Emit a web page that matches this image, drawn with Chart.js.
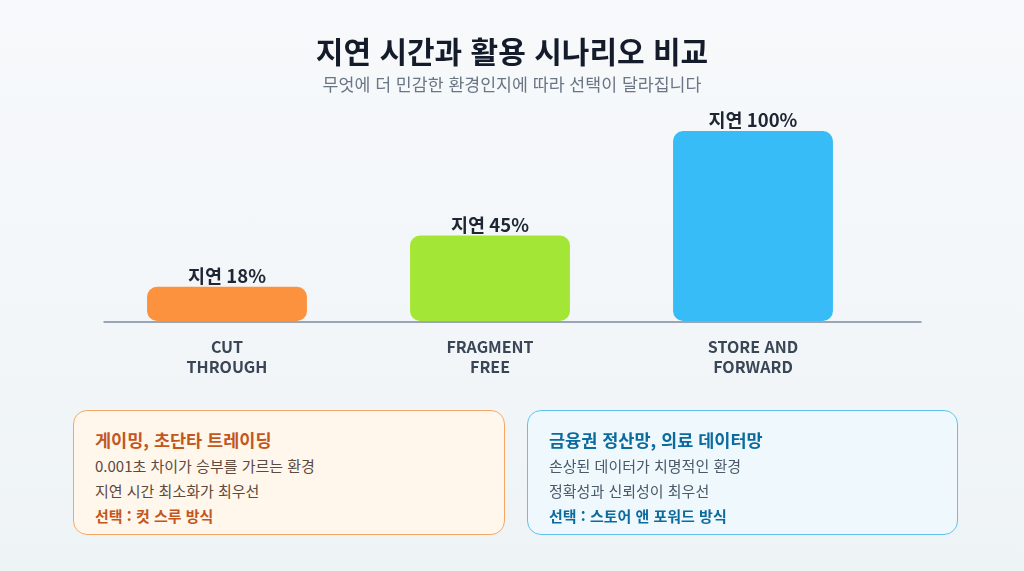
<!DOCTYPE html>
<html lang="ko">
<head>
<meta charset="utf-8">
<script src="https://cdn.jsdelivr.net/npm/chart.js@4.4.1/dist/chart.umd.min.js"></script>
<style>
  html, body { margin: 0; padding: 0; }
  body { width: 1024px; height: 571px; overflow: hidden;
    background: linear-gradient(180deg, #f7f9fb 0%, #f2f6f8 60%, #eef3f5 100%);
    font-family: "Noto Sans CJK KR", "Noto Sans", sans-serif; position: relative; }
  #wrap { position: absolute; left: 0; top: 0; width: 1024px; height: 571px; }
  .title { position: absolute; left: 0; width: 1024px; top: 30px; text-align: center;
    font-size: 30px; font-weight: 700; color: #141b2b; line-height: 40px; }
  .subtitle { position: absolute; left: 0; width: 1024px; top: 72px; text-align: center;
    font-size: 17.3px; color: #6b7685; line-height: 24px; }
  .box { position: absolute; top: 410px; height: 125px; border-radius: 14px; box-sizing: border-box; }
  .box.left { left: 73px; width: 432px; background: #fff6ec; border: 1.5px solid #f5a866; }
  .box.right { left: 527px; width: 431px; background: #eef8fd; border: 1.5px solid #5fc2ee; }
  .box div { position: absolute; left: 21px; white-space: nowrap; }
  .bt { top: 16px; font-size: 17.5px; font-weight: 700; line-height: 26px; }
  .b1 { top: 43px; font-size: 15px; line-height: 24px; }
  .b2 { top: 68px; font-size: 15px; line-height: 24px; }
  .b3 { top: 93px; font-size: 15px; font-weight: 700; line-height: 24px; }
  .left .bt, .left .b3 { color: #c4561d; }
  .left .b1, .left .b2 { color: #5c4a3e; }
  .right .bt, .right .b3 { color: #0c6b9e; }
  .right .b1, .right .b2 { color: #4a5a68; }
</style>
</head>
<body>
<div id="wrap"><canvas id="c"></canvas></div>
<div class="title">지연 시간과 활용 시나리오 비교</div>
<div class="subtitle">무엇에 더 민감한 환경인지에 따라 선택이 달라집니다</div>
<div class="box left">
  <div class="bt">게이밍, 초단타 트레이딩</div>
  <div class="b1">0.001초 차이가 승부를 가르는 환경</div>
  <div class="b2">지연 시간 최소화가 최우선</div>
  <div class="b3">선택 : 컷 스루 방식</div>
</div>
<div class="box right">
  <div class="bt">금융권 정산망, 의료 데이터망</div>
  <div class="b1">손상된 데이터가 치명적인 환경</div>
  <div class="b2">정확성과 신뢰성이 최우선</div>
  <div class="b3">선택 : 스토어 앤 포워드 방식</div>
</div>
<script>
const categories = [["CUT", "THROUGH"], ["FRAGMENT", "FREE"], ["STORE AND", "FORWARD"]];
const latency = [18, 45, 100];
const barColors = ["#fd923e", "#a3e635", "#38bcf8"];
const labelPrefix = "지연 ";

const FONT = '"Noto Sans CJK KR", "Noto Sans", sans-serif';

const baselinePlugin = {
  id: 'baseline',
  beforeDatasetsDraw(chart) {
    const { ctx, chartArea } = chart;
    const y = chart.scales.y.getPixelForValue(0);
    ctx.save();
    ctx.strokeStyle = '#9aa6b6';
    ctx.lineWidth = 2;
    ctx.beginPath();
    ctx.moveTo(chartArea.left + 8, y + 1);
    ctx.lineTo(chartArea.right + 37, y + 1);
    ctx.stroke();
    ctx.restore();
  }
};

const valueLabels = {
  id: 'valueLabels',
  afterDatasetsDraw(chart) {
    const { ctx } = chart;
    const meta = chart.getDatasetMeta(0);
    ctx.save();
    ctx.font = `700 18.5px ${FONT}`;
    ctx.fillStyle = '#1e2533';
    ctx.textAlign = 'center';
    ctx.textBaseline = 'middle';
    meta.data.forEach((bar, i) => {
      ctx.fillText(`${labelPrefix}${latency[i]}%`, bar.x, bar.y - 11);
    });
    ctx.restore();
  }
};

new Chart(document.getElementById('c'), {
  type: 'bar',
  data: {
    labels: categories,
    datasets: [{
      data: latency,
      backgroundColor: barColors,
      borderRadius: 10,
      borderSkipped: false,
      categoryPercentage: 0.76,
      barPercentage: 0.8
    }]
  },
  options: {
    responsive: true,
    maintainAspectRatio: false,
    animation: false,
    devicePixelRatio: 1,
    layout: { padding: { left: 95.5, right: 139.5, top: 131, bottom: 190 } },
    plugins: { legend: { display: false }, tooltip: { enabled: false } },
    scales: {
      x: {
        grid: { display: false, drawTicks: false },
        border: { display: false },
        ticks: {
          padding: 16,
          color: '#3a4656',
          font: { family: FONT, size: 16, weight: '700', lineHeight: 1.25 }
        },
        afterFit(s) { s.height = 60; }
      },
      y: {
        display: false,
        min: 0,
        max: 100
      }
    }
  },
  plugins: [baselinePlugin, valueLabels]
});
</script>
</body>
</html>
